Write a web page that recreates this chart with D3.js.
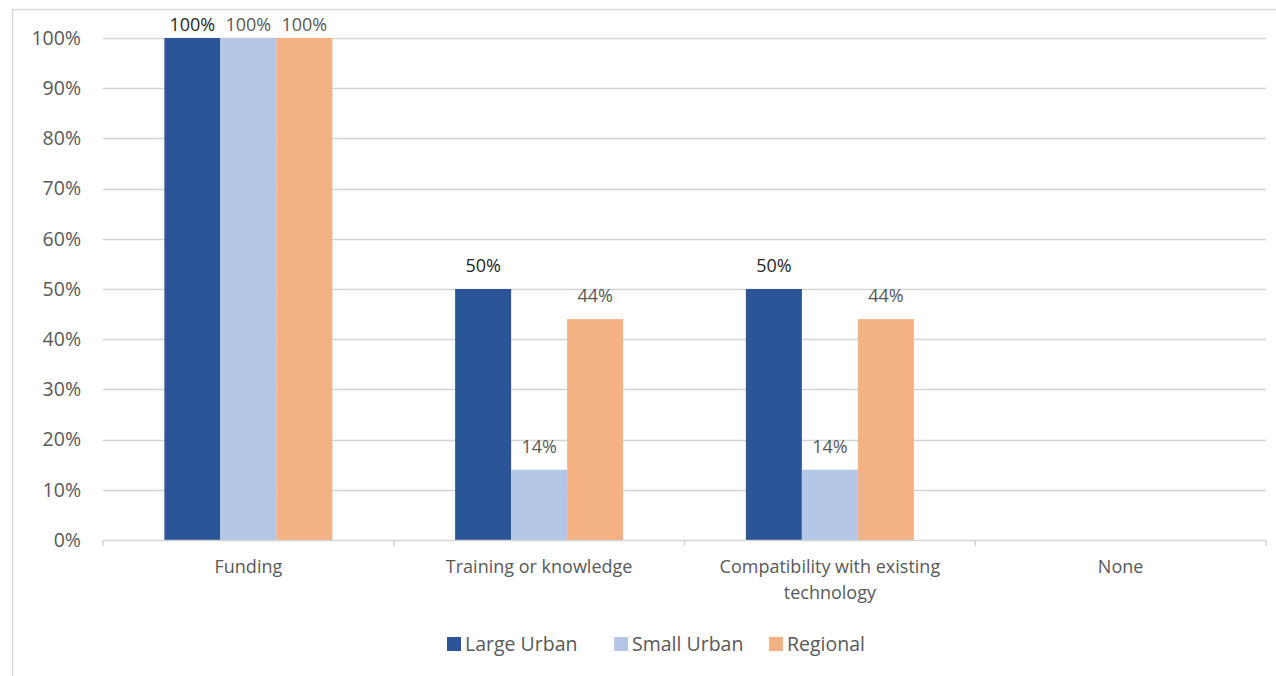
<!DOCTYPE html>
<html>
<head>
<meta charset="utf-8">
<script src="https://cdn.jsdelivr.net/npm/d3@7"></script>
<style>
  body { margin: 0; background: #fff; }
  svg { display: block; }
  svg text { font-family: "Open Sans", "Noto Sans", sans-serif; }
</style>
</head>
<body>
<svg></svg>
<script>
// chart data
var categories = ["Funding", "Training or knowledge", "Compatibility with existing technology", "None"];
var seriesNames = ["Large Urban", "Small Urban", "Regional"];
var largeUrban = [1.00, 0.50, 0.50, 0];
var smallUrban = [1.00, 0.14, 0.14, 0];
var regional = [1.00, 0.44, 0.44, 0];
var yTicks = [0, 0.1, 0.2, 0.3, 0.4, 0.5, 0.6, 0.7, 0.8, 0.9, 1.0];

var seriesValues = [largeUrban, smallUrban, regional];
var colors = ["#2b5597", "#b4c7e7", "#f4b183"];
var labelColors = ["#262626", "#595959", "#595959"];

var config = { w: 1276, h: 676, left: 103, right: 1266, top: 38, bottom: 540 };

var svg = d3.select("svg").attr("width", config.w).attr("height", config.h);

// outer frame (left + top edge visible)
svg.append("path")
  .attr("d", "M12.5,676 V9.5 H1276")
  .attr("fill", "none")
  .attr("stroke", "#d9d9d9")
  .attr("stroke-width", 1.5);

// scales
var x0 = d3.scaleBand().domain(categories).range([config.left, config.right]).paddingInner(0).paddingOuter(0);
var x1 = d3.scaleBand().domain(seriesNames).range([0, x0.bandwidth()]).paddingInner(0).paddingOuter(1.096);
var y = d3.scaleLinear().domain([0, 1]).range([config.bottom, config.top]);

// gridlines
var grid = svg.append("g");
grid.selectAll("line")
  .data(yTicks.slice(1))
  .enter().append("line")
  .attr("x1", config.left).attr("x2", config.right)
  .attr("y1", function(d) { return Math.round(y(d)) + 0.5; })
  .attr("y2", function(d) { return Math.round(y(d)) + 0.5; })
  .attr("stroke", "#d4d4d4")
  .attr("stroke-width", 1.5);

// y axis labels
var yAxis = d3.axisLeft(y).tickValues(yTicks).tickFormat(d3.format(".0%")).tickSize(0).tickPadding(22);
var yg = svg.append("g").attr("transform", "translate(" + config.left + ",0)").call(yAxis);
yg.attr("font-family", null).attr("font-size", null);
yg.select(".domain").remove();
yg.selectAll("text").attr("fill", "#595959").style("font-size", "19.5px");

// bars
var groups = svg.append("g").selectAll("g")
  .data(seriesNames)
  .enter().append("g")
  .attr("fill", function(d, i) { return colors[i]; });

groups.selectAll("rect")
  .data(function(d, i) {
    return categories.map(function(c, j) { return { cat: c, s: d, si: i, v: seriesValues[i][j] }; });
  })
  .enter().append("rect")
  .attr("x", function(d) { return x0(d.cat) + x1(d.s); })
  .attr("width", x1.bandwidth())
  .attr("y", function(d) { return y(d.v); })
  .attr("height", function(d) { return y(0) - y(d.v); });

// data labels (clamped so the 100% labels stay inside the frame)
groups.selectAll("text")
  .data(function(d, i) {
    return categories.map(function(c, j) { return { cat: c, s: d, si: i, v: seriesValues[i][j] }; })
      .filter(function(d) { return d.v > 0; });
  })
  .enter().append("text")
  .attr("x", function(d) { return x0(d.cat) + x1(d.s) + x1.bandwidth() / 2; })
  .attr("y", function(d) { return Math.max(y(d.v) - 17, 31); })
  .attr("text-anchor", "middle")
  .attr("fill", function(d) { return labelColors[d.si]; })
  .style("font-size", "18px")
  .text(function(d) { return d3.format(".0%")(d.v); });

// x axis
var xAxis = d3.axisBottom(x0).tickSize(0).tickFormat("");
var xg = svg.append("g").attr("transform", "translate(0," + config.bottom + ")").call(xAxis);
xg.attr("font-family", null).attr("font-size", null);
xg.select(".domain").attr("stroke", "#d4d4d4").attr("stroke-width", 1.5).attr("d", "M" + config.left + ",0.5H" + config.right);

// category boundary ticks
xg.selectAll(".bound")
  .data(d3.range(categories.length + 1))
  .enter().append("line")
  .attr("class", "bound")
  .attr("x1", function(i) { return config.left + i * x0.bandwidth(); })
  .attr("x2", function(i) { return config.left + i * x0.bandwidth(); })
  .attr("y1", 0).attr("y2", 6)
  .attr("stroke", "#d4d4d4")
  .attr("stroke-width", 1.5);

// category labels, wrapped
var wrapWidth = 250;
xg.selectAll(".cat")
  .data(categories)
  .enter().append("text")
  .attr("class", "cat")
  .attr("text-anchor", "middle")
  .attr("fill", "#595959")
  .style("font-size", "18px")
  .each(function(d) {
    var t = d3.select(this);
    var cx = x0(d) + x0.bandwidth() / 2;
    var words = d.split(" ");
    var lines = [];
    var line = [];
    words.forEach(function(w) {
      line.push(w);
      t.text(line.join(" "));
      if (this.getComputedTextLength() > wrapWidth && line.length > 1) {
        line.pop();
        lines.push(line.join(" "));
        line = [w];
      }
    }, this);
    lines.push(line.join(" "));
    t.text(null);
    lines.forEach(function(l, k) {
      t.append("tspan").attr("x", cx).attr("y", 33 + k * 26).text(l);
    });
  });

// legend
var legendX = [447, 614, 769];
var legend = svg.append("g").selectAll("g")
  .data(seriesNames)
  .enter().append("g")
  .attr("transform", function(d, i) { return "translate(" + legendX[i] + ",637)"; });

legend.append("rect")
  .attr("width", 14).attr("height", 14)
  .attr("fill", function(d, i) { return colors[i]; });

legend.append("text")
  .attr("x", 18).attr("y", 14)
  .attr("fill", "#595959")
  .style("font-size", "19.5px")
  .text(function(d) { return d; });
</script>
</body>
</html>
